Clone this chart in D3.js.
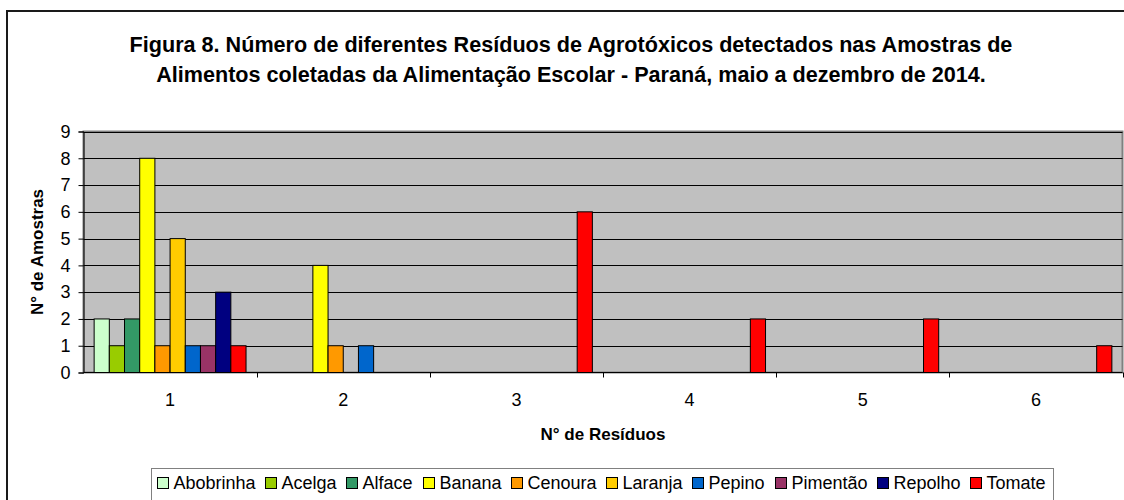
<!DOCTYPE html>
<html>
<head>
<meta charset="utf-8">
<script src="https://cdn.jsdelivr.net/npm/d3@7"></script>
<style>
  body { margin: 0; background: #fff; }
  svg { display: block; font-family: Arial, "Liberation Sans", sans-serif; }
</style>
</head>
<body>
<svg id="chart" width="1124" height="500"></svg>
<script>
// chart data
var categories = ["1", "2", "3", "4", "5", "6"];
var seriesNames = ["Abobrinha", "Acelga", "Alface", "Banana", "Cenoura", "Laranja", "Pepino", "Pimentão", "Repolho", "Tomate"];
var abobrinha = [2, 0, 0, 0, 0, 0];
var acelga    = [1, 0, 0, 0, 0, 0];
var alface    = [2, 0, 0, 0, 0, 0];
var banana    = [8, 4, 0, 0, 0, 0];
var cenoura   = [1, 1, 0, 0, 0, 0];
var laranja   = [5, 0, 0, 0, 0, 0];
var pepino    = [1, 1, 0, 0, 0, 0];
var pimentao  = [1, 0, 0, 0, 0, 0];
var repolho   = [3, 0, 0, 0, 0, 0];
var tomate    = [1, 0, 6, 2, 2, 1];
var yTicks = [0, 1, 2, 3, 4, 5, 6, 7, 8, 9];
var titleLines = [
    "Figura 8. Número de diferentes Resíduos de Agrotóxicos detectados nas Amostras de",
    "Alimentos coletadas da Alimentação Escolar - Paraná, maio a dezembro de 2014."
];

var seriesValues = [abobrinha, acelga, alface, banana, cenoura, laranja, pepino, pimentao, repolho, tomate];
var colors = ["#CCFFCC", "#99CC00", "#339966", "#FFFF00", "#FF9900", "#FFCC00", "#0066CC", "#993366", "#000080", "#FF0000"];

var svg = d3.select("#chart");

var plot = { left: 83.5, right: 1122.5, top: 131.5, bottom: 372.5 };

// outer chart border
svg.append("rect")
    .attr("x", 7).attr("y", 11)
    .attr("width", 1130).attr("height", 520)
    .attr("fill", "#fff")
    .attr("stroke", "#1a1a1a")
    .attr("stroke-width", 2);

// title
svg.selectAll(".title")
    .data(titleLines)
    .enter().append("text")
    .attr("class", "title")
    .attr("x", 571)
    .attr("y", function(d, i) { return 52 + i * 30; })
    .attr("text-anchor", "middle")
    .attr("font-size", "21.6px")
    .attr("font-weight", "bold")
    .text(function(d) { return d; });

var x = d3.scaleBand()
    .domain(categories)
    .range([plot.left, plot.right]);

var xInner = d3.scaleBand()
    .domain(seriesNames)
    .range([0, x.bandwidth()])
    .paddingOuter(0.7);

var y = d3.scaleLinear()
    .domain([0, 9])
    .range([plot.bottom, plot.top]);

// plot background
svg.append("rect")
    .attr("x", plot.left).attr("y", plot.top)
    .attr("width", plot.right - plot.left)
    .attr("height", plot.bottom - plot.top)
    .attr("fill", "#C0C0C0")
    .attr("stroke", "#808080")
    .attr("stroke-width", 2);

// gridlines
svg.selectAll(".grid")
    .data(yTicks.slice(1))
    .enter().append("line")
    .attr("x1", plot.left).attr("x2", plot.right)
    .attr("y1", function(d) { return Math.round(y(d)) + 0.5; })
    .attr("y2", function(d) { return Math.round(y(d)) + 0.5; })
    .attr("stroke", "#000")
    .attr("stroke-width", 1);

// bars
var bars = [];
seriesNames.forEach(function(name, s) {
    seriesValues[s].forEach(function(v, c) {
        if (v > 0) bars.push({ name: name, cat: categories[c], value: v, color: colors[s] });
    });
});

svg.selectAll(".bar")
    .data(bars)
    .enter().append("rect")
    .attr("class", "bar")
    .attr("x", function(d) { return x(d.cat) + xInner(d.name); })
    .attr("y", function(d) { return y(d.value); })
    .attr("width", xInner.bandwidth())
    .attr("height", function(d) { return y(0) - y(d.value); })
    .attr("fill", function(d) { return d.color; })
    .attr("stroke", "#000")
    .attr("stroke-width", 1);

// y axis
var yAxis = svg.append("g")
    .attr("transform", "translate(" + plot.left + ",0)")
    .call(d3.axisLeft(y).tickValues(yTicks).tickSize(5).tickPadding(8).tickFormat(d3.format("d")));
yAxis.selectAll("text").attr("font-size", "18px").attr("fill", "#000").attr("font-family", "Arial, 'Liberation Sans', sans-serif");
yAxis.selectAll("line").attr("stroke", "#000");
yAxis.select(".domain").attr("stroke", "#000");

// x axis: ticks at category boundaries
var xAxis = svg.append("g")
    .attr("transform", "translate(0," + plot.bottom + ")");
xAxis.append("line")
    .attr("x1", plot.left).attr("x2", plot.right)
    .attr("stroke", "#000");
xAxis.selectAll(".xtick")
    .data(categories)
    .enter().append("line")
    .attr("x1", function(d) { return Math.round(x(d) + x.bandwidth()) + 0.5; })
    .attr("x2", function(d) { return Math.round(x(d) + x.bandwidth()) + 0.5; })
    .attr("y1", 0).attr("y2", 5)
    .attr("stroke", "#000");
xAxis.selectAll(".xlabel")
    .data(categories)
    .enter().append("text")
    .attr("x", function(d) { return x(d) + x.bandwidth() / 2; })
    .attr("y", 33)
    .attr("text-anchor", "middle")
    .attr("font-size", "18px")
    .text(function(d) { return d; });

// axis titles
svg.append("text")
    .attr("x", (plot.left + plot.right) / 2)
    .attr("y", 440)
    .attr("text-anchor", "middle")
    .attr("font-size", "17px")
    .attr("font-weight", "bold")
    .text("N° de Resíduos");

svg.append("text")
    .attr("transform", "translate(43," + ((plot.top + plot.bottom) / 2) + ") rotate(-90)")
    .attr("text-anchor", "middle")
    .attr("font-size", "17px")
    .attr("font-weight", "bold")
    .text("N° de Amostras");

// legend
var legendBox = { left: 151.5, right: 1053.5, top: 468.5 };
svg.append("rect")
    .attr("x", legendBox.left).attr("y", legendBox.top)
    .attr("width", legendBox.right - legendBox.left)
    .attr("height", 40)
    .attr("fill", "#fff")
    .attr("stroke", "#808080");

var legend = svg.append("g");
var items = legend.selectAll("g")
    .data(seriesNames)
    .enter().append("g");
items.append("rect")
    .attr("width", 11).attr("height", 11)
    .attr("y", 477.5)
    .attr("fill", function(d, i) { return colors[i]; })
    .attr("stroke", "#000");
items.append("text")
    .attr("x", 16)
    .attr("y", 489)
    .attr("font-size", "18px")
    .text(function(d) { return d; });

var widths = [];
items.each(function() { widths.push(16 + d3.select(this).select("text").node().getComputedTextLength()); });
var start = 157, end = 1045;
var gap = (end - start - d3.sum(widths)) / (widths.length - 1);
var pos = start;
items.each(function(d, i) {
    d3.select(this).attr("transform", "translate(" + Math.round(pos) + ".5,0)");
    pos += widths[i] + gap;
});
</script>
</body>
</html>
